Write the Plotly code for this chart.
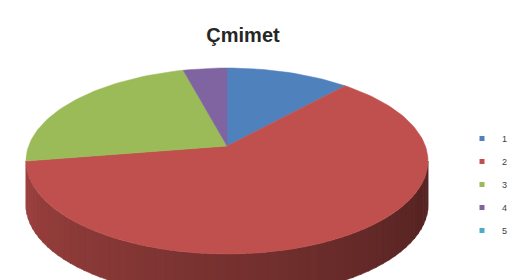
import math
import plotly.graph_objects as go

# ---- data ----
categories = ["1", "2", "3", "4", "5"]
values = [10, 65, 21.5, 3.5, 0]
colors = ["#4f81bd", "#c0504d", "#9bbb59", "#8064a2", "#4bacc6"]
title_text = "Çmimet"

# ---- geometry (pixel-like data space, y up) ----
W, H = 519, 280
cx, cy = 227, H - 161      # ellipse centre of top face
rx, ry = 201, 93
apex = (227, H - 146)      # visual apex (perspective)
depth = 44


def ept(theta):
    t = math.radians(theta)
    return cx + rx * math.sin(t), cy + ry * math.cos(t)


def shade(hex_color, f):
    h = hex_color.lstrip("#")
    r, g, b = int(h[0:2], 16), int(h[2:4], 16), int(h[4:6], 16)
    return "rgb(%d,%d,%d)" % (r * f, g * f, b * f)


total = sum(values)
bounds = []
acc = 0.0
for v in values:
    a0 = acc / total * 360
    acc += v
    a1 = acc / total * 360
    bounds.append((a0, a1))

fig = go.Figure()

# side wall (front half: 90..270 deg), drawn as shaded strips
for (a0, a1), col in zip(bounds, colors):
    s0, s1 = max(a0, 90), min(a1, 270)
    if s1 <= s0:
        continue
    n = max(2, int((s1 - s0) / 3))
    for k in range(n):
        t0 = s0 + (s1 - s0) * k / n
        t1 = s0 + (s1 - s0) * (k + 1) / n + 0.4
        t1 = min(t1, s1)
        tm = (t0 + t1) / 2
        f = 0.42 + 0.40 * (tm - 90) / 180
        xs, ys = [], []
        for t in (t0, t1):
            x, y = ept(t)
            xs.append(x); ys.append(y)
        for t in (t1, t0):
            x, y = ept(t)
            xs.append(x); ys.append(y - depth)
        xs.append(xs[0]); ys.append(ys[0])
        c = shade(col, f)
        fig.add_trace(go.Scatter(x=xs, y=ys, mode="lines", fill="toself",
                                 fillcolor=c, line=dict(width=0.6, color=c),
                                 showlegend=False, hoverinfo="skip"))

# top face slices
for (a0, a1), col, cat in zip(bounds, colors, categories):
    if a1 - a0 <= 0:
        continue
    n = max(2, int((a1 - a0) / 1.5))
    xs, ys = [apex[0]], [apex[1]]
    for k in range(n + 1):
        x, y = ept(a0 + (a1 - a0) * k / n)
        xs.append(x); ys.append(y)
    xs.append(apex[0]); ys.append(apex[1])
    fig.add_trace(go.Scatter(x=xs, y=ys, mode="lines", fill="toself",
                             fillcolor=col, line=dict(width=0.5, color=col),
                             showlegend=False, name=cat, hoverinfo="name"))

# legend entries
for cat, col in zip(categories, colors):
    fig.add_trace(go.Scatter(x=[None], y=[None], mode="markers", name=cat,
                             marker=dict(symbol="square", size=5, color=col),
                             legendgroup=cat, showlegend=True))

fig.update_layout(
    width=W, height=H,
    margin=dict(l=0, r=0, t=0, b=0),
    paper_bgcolor="white", plot_bgcolor="white",
    xaxis=dict(range=[0, W], visible=False, fixedrange=True),
    yaxis=dict(range=[0, H], visible=False, fixedrange=True),
    title=dict(text="<b>" + title_text + "</b>", x=243 / W, xanchor="center",
               y=1 - 35 / H, yanchor="middle",
               font=dict(family="Liberation Sans", size=20, color="#262626")),
    legend=dict(x=462 / W, y=1 - 124 / H, xanchor="left", yanchor="top",
                font=dict(family="Liberation Sans", size=9, color="#404040"),
                itemwidth=30, traceorder="grouped", tracegroupgap=4,
                bgcolor="rgba(0,0,0,0)"),
    showlegend=True,
)

fig.write_html("out.html", config={"displayModeBar": False},
               post_script="document.body.style.margin='0';document.body.style.overflow='hidden';")
